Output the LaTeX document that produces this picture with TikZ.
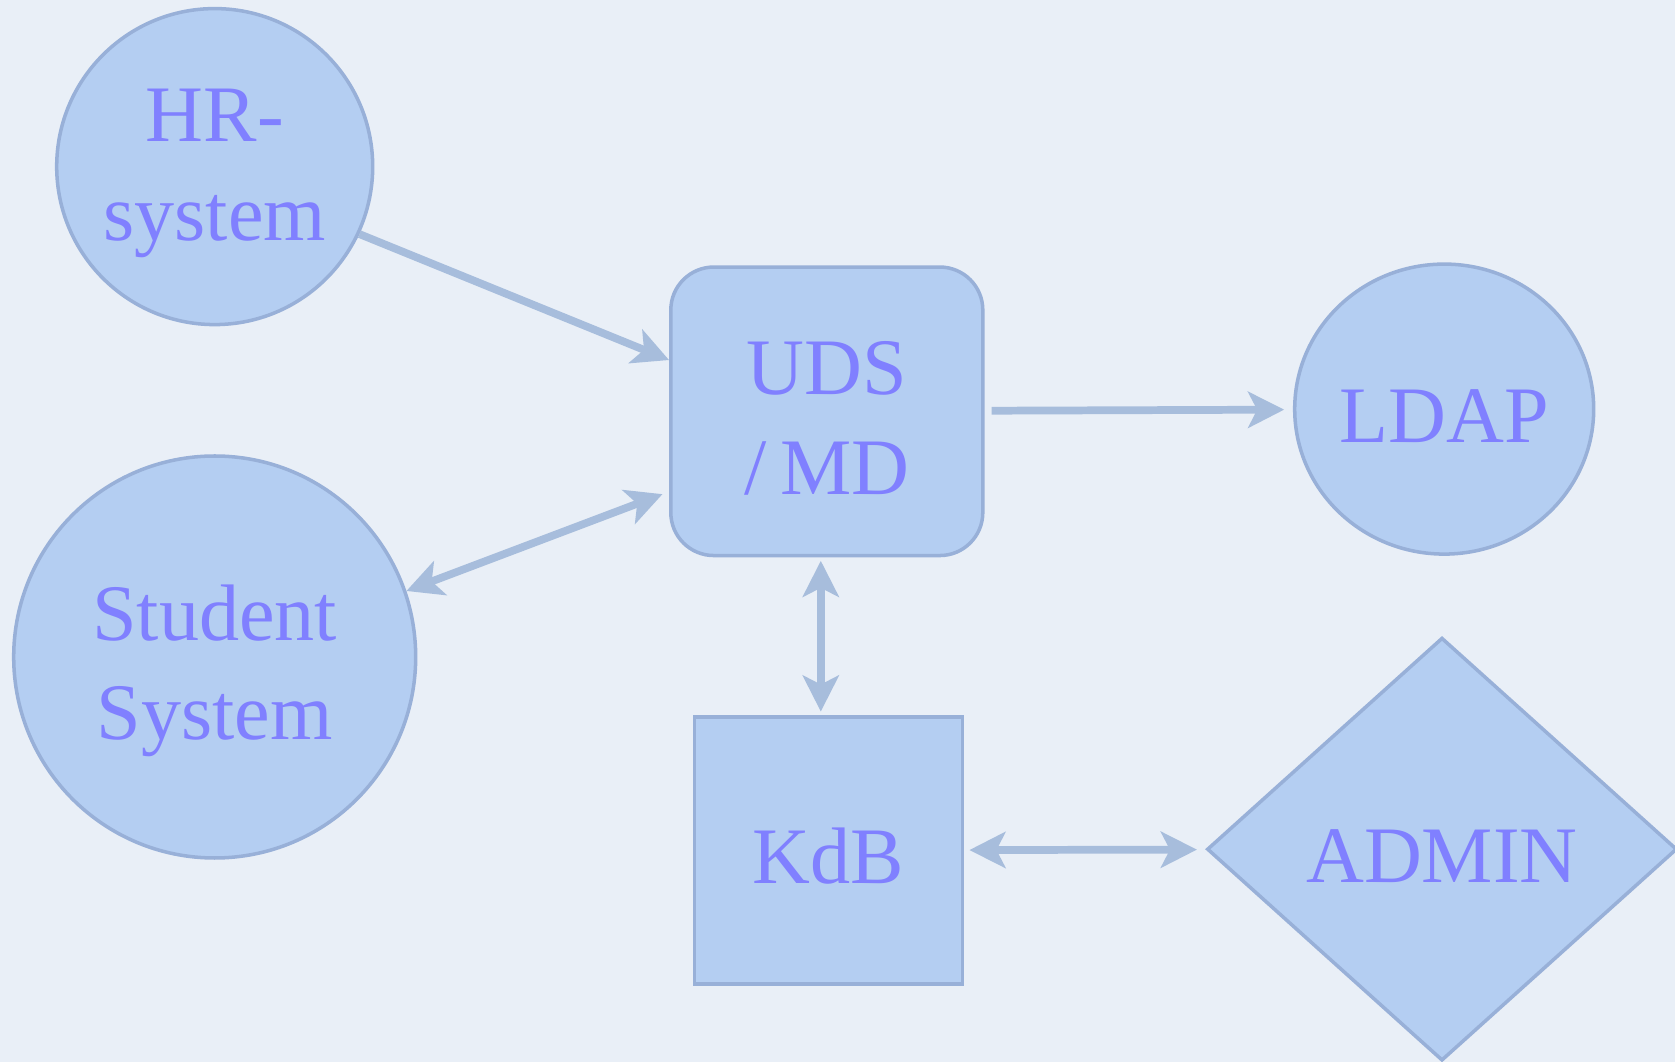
\documentclass[tikz,border=0pt]{standalone}
\usepackage{fontspec}
\setmainfont{Liberation Serif}
\usetikzlibrary{shapes.geometric, arrows.meta}

\definecolor{paper}{HTML}{E9EFF7}
\definecolor{boxfill}{HTML}{B4CEF2}
\definecolor{boxline}{HTML}{98B0D8}
\definecolor{labelblue}{HTML}{8080FF}
\definecolor{linkblue}{HTML}{A7BDDC}

% label text: rows 28pt apart, a little below the node centre
\newcommand{\lbl}[2][3.8pt]{\raisebox{-#1}[\height][\depth]{\begin{tabular}{@{}c@{}}#2\end{tabular}}}

\tikzset{
  sysnode/.style={draw=boxline, fill=boxfill, line width=1pt, inner sep=0pt,
    text=labelblue, font=\fontsize{22.8}{28.2}\selectfont},
  tip/.tip={Stealth[length=0.36cm, width=0.36cm, inset=0.09cm]},
  link/.style={draw=linkblue, line width=2.2pt, -tip},
  twolink/.style={link, tip-tip}
}

\begin{document}
\begin{tikzpicture}[x=0.1mm, y=-0.1mm]
            \fill[paper] (0,0) rectangle (1675,1062);
            \useasboundingbox (0,0) rectangle (1675,1062);

            \node[sysnode, circle, minimum size=3.16cm] (hr) at (214.7,166.6) {\lbl[1.2pt]{HR-\\system}};
            \node[sysnode, circle, minimum size=4.02cm] (student) at (214.7,657) {\lbl{Student\\System}};
            \node[sysnode, rectangle, rounded corners=0.43cm, minimum width=3.12cm, minimum height=2.885cm] (uds) at (826.8,411.3) {\lbl{UDS\\/\,MD}};
            \node[sysnode, ellipse, minimum width=2.99cm, minimum height=2.9cm] (ldap) at (1444.2,409.1) {\lbl{LDAP}};
            \node[sysnode, rectangle, minimum width=2.68cm, minimum height=2.67cm] (kdb) at (828.4,850.3) {\lbl{KdB}};
            \node[sysnode, diamond, minimum width=4.7cm, minimum height=4.23cm] (admin) at (1442,849.2) {\lbl{ADMIN}};

            \draw[link] (hr.-25.7) -- (uds.162);
            \draw[twolink, shorten >=2pt] (student.19.7) -- (uds.207);
            \draw[link, shorten <=2pt, shorten >=2.5pt] (uds) -- (ldap);
            \draw[twolink, shorten <=1pt, shorten >=1pt] (uds.south) ++(-6,0) coordinate (udsfoot) (udsfoot) -- (kdb.north -| udsfoot);
            \draw[twolink, shorten <=1.5pt, shorten >=2.5pt] (kdb) -- (admin);
        \end{tikzpicture}
\end{document}
